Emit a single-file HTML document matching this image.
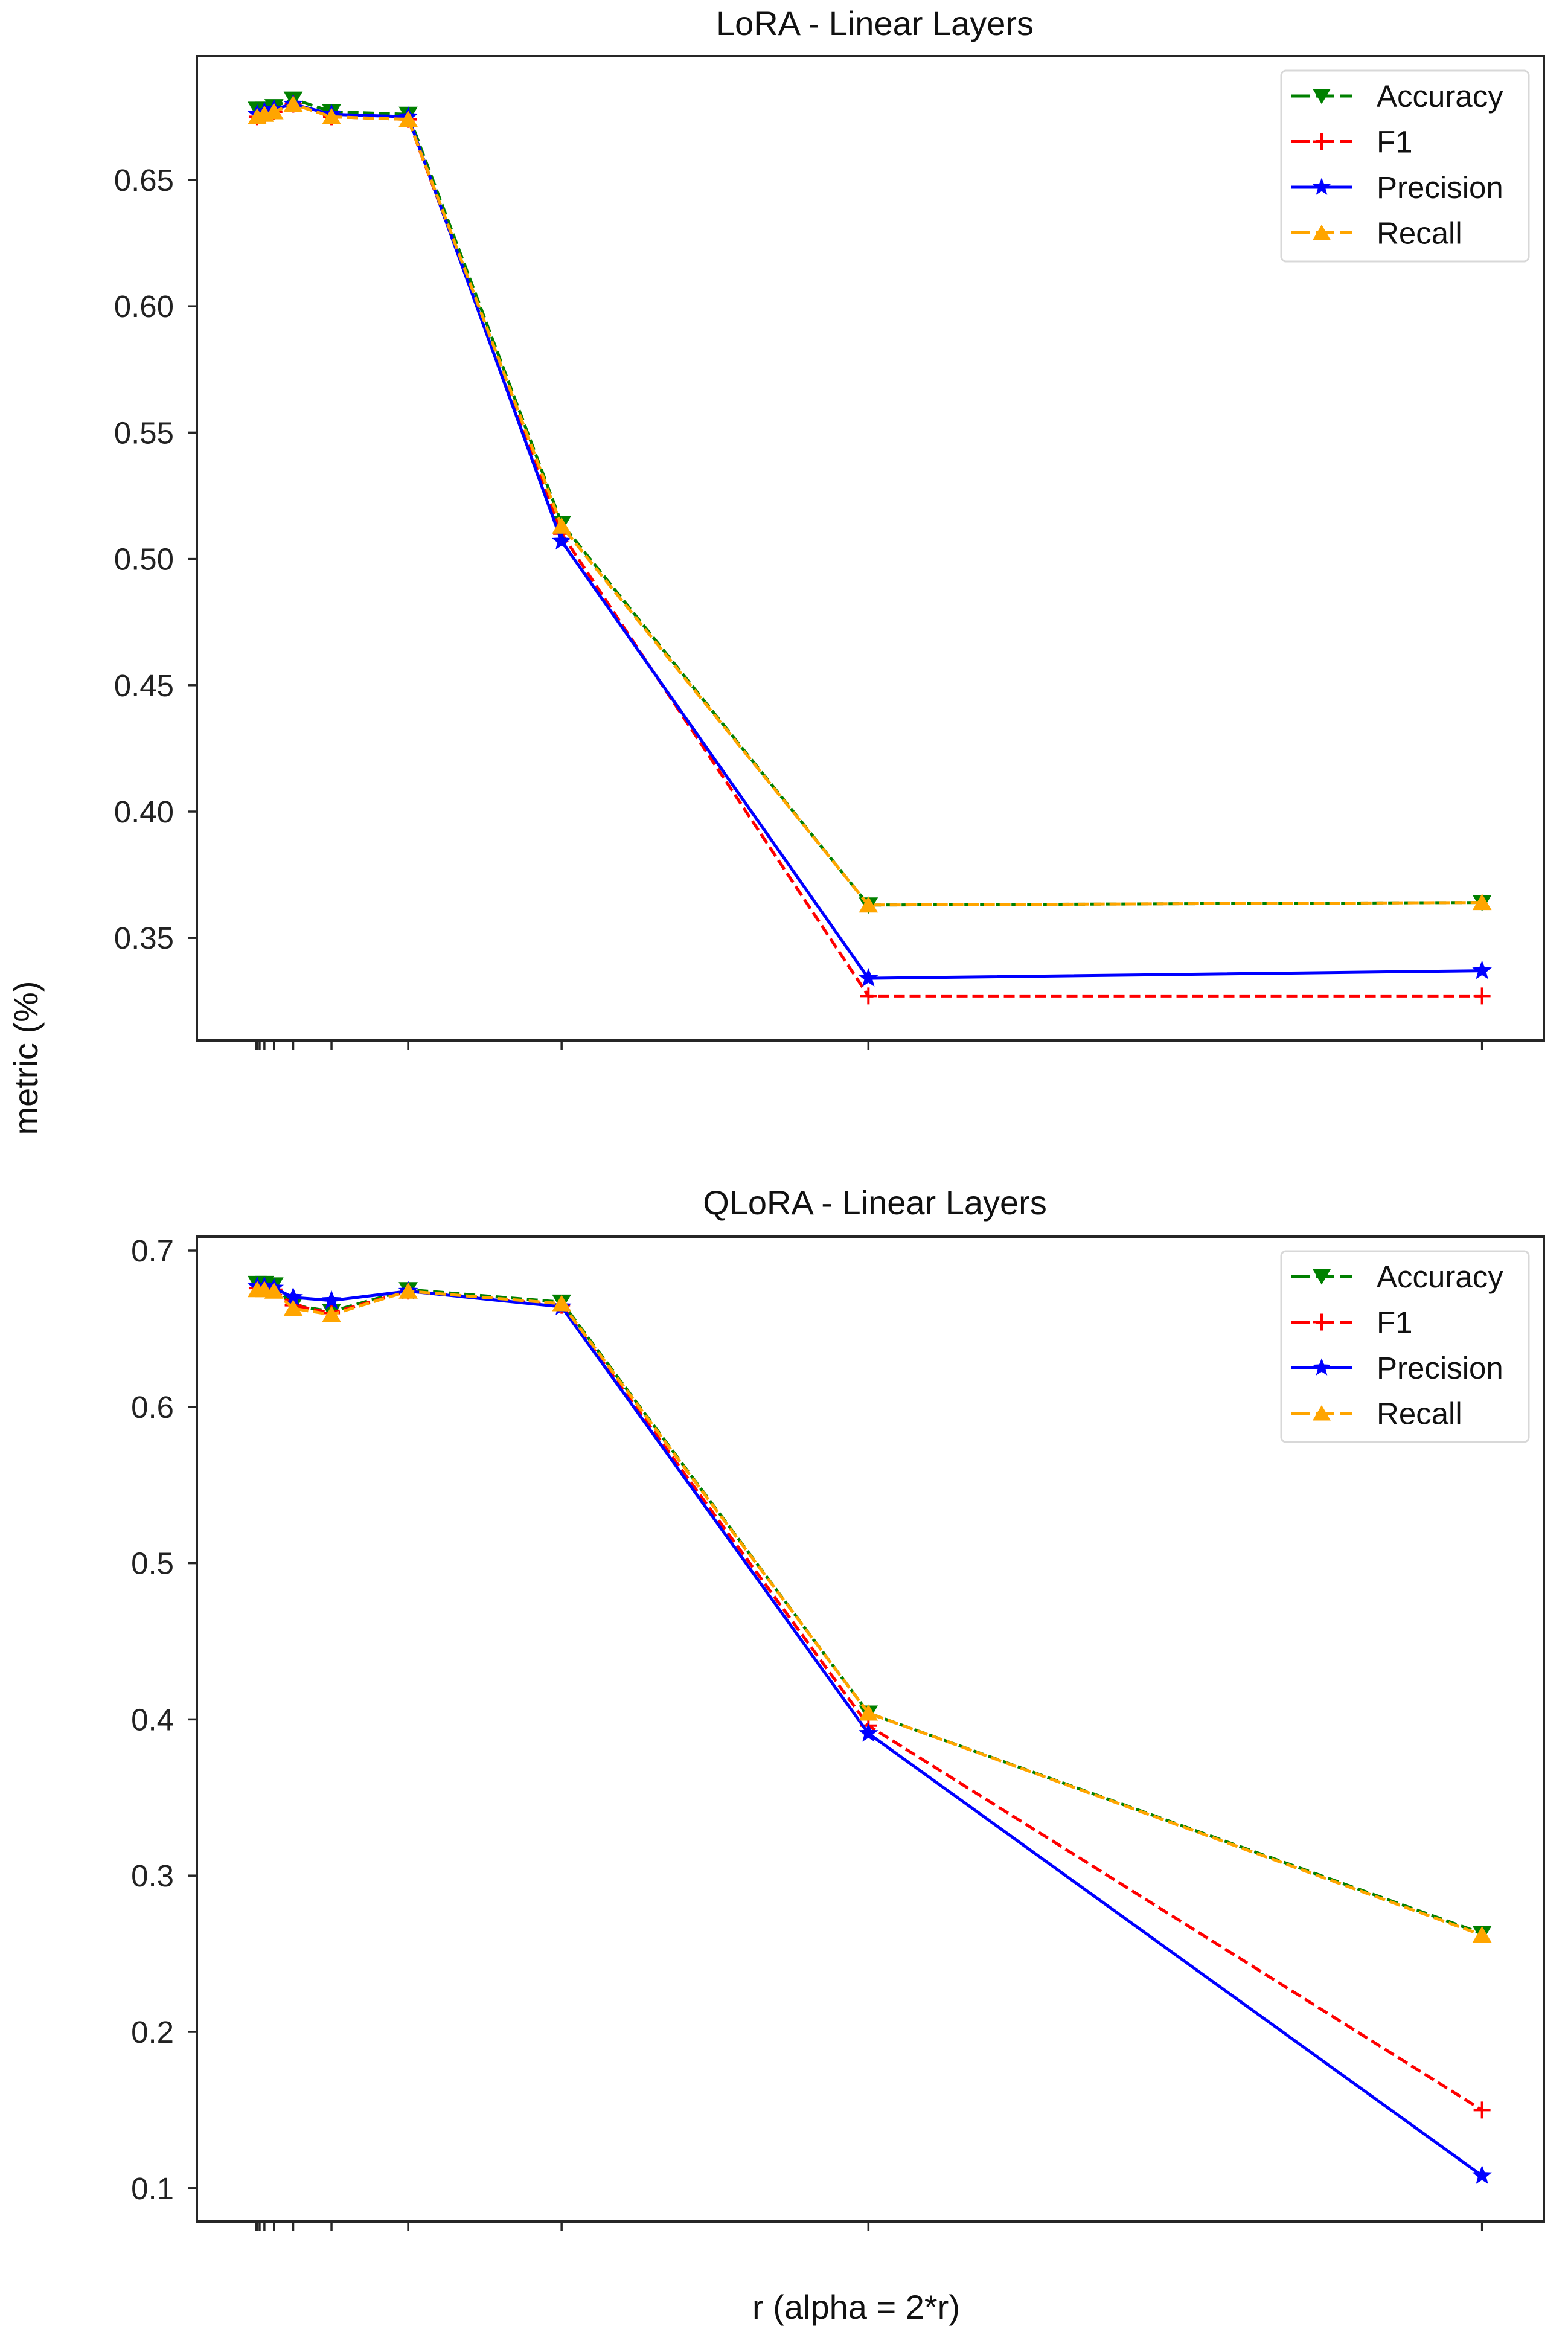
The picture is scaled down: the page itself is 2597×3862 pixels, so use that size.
<!DOCTYPE html>
<html><head><meta charset="utf-8"><style>
html,body{margin:0;padding:0;background:#fff;}
svg{display:block;font-family:"Liberation Sans","DejaVu Sans",sans-serif;}
</style></head><body>
<svg id="chart" width="2597" height="3862" viewBox="0 0 2597 3862" xmlns="http://www.w3.org/2000/svg">
<rect width="2597" height="3862" fill="#fff"/>
<text x="1449" y="58" font-size="56" text-anchor="middle" fill="#111">LoRA - Linear Layers</text>
<text x="1449" y="2011" font-size="56" text-anchor="middle" fill="#111">QLoRA - Linear Layers</text>
<text x="1418" y="3840" font-size="56" text-anchor="middle" fill="#111">r (alpha = 2*r)</text>
<text x="0" y="0" font-size="56" text-anchor="middle" fill="#111" transform="translate(62,1752) rotate(-90)">metric (%)</text>
<g id="plots"></g>
</svg>
<script>
const rValues = [0.25, 1, 2, 4, 8, 16, 32, 64, 128];
const xTicks = [0.125, 0.25, 0.5, 1, 2, 4, 8, 16, 32, 64, 128];
const seriesNames = ["Accuracy", "F1", "Precision", "Recall"];
const loraAccuracy  = [0.678, 0.678, 0.679, 0.682, 0.677, 0.676, 0.514, 0.363, 0.364];
const loraF1        = [0.675, 0.676, 0.677, 0.680, 0.675, 0.674, 0.510, 0.327, 0.327];
const loraPrecision = [0.676, 0.677, 0.678, 0.680, 0.676, 0.675, 0.507, 0.334, 0.337];
const loraRecall    = [0.675, 0.676, 0.677, 0.680, 0.675, 0.674, 0.513, 0.363, 0.364];
const qloraAccuracy  = [0.679, 0.679, 0.678, 0.665, 0.661, 0.675, 0.667, 0.404, 0.263];
const qloraF1        = [0.676, 0.676, 0.675, 0.665, 0.660, 0.674, 0.665, 0.396, 0.150];
const qloraPrecision = [0.677, 0.677, 0.676, 0.670, 0.668, 0.674, 0.664, 0.391, 0.108];
const qloraRecall    = [0.675, 0.675, 0.674, 0.663, 0.659, 0.674, 0.666, 0.404, 0.262];
const loraYTicks = [0.35, 0.40, 0.45, 0.50, 0.55, 0.60, 0.65];
const loraYLabels = ["0.35", "0.40", "0.45", "0.50", "0.55", "0.60", "0.65"];
const qloraYTicks = [0.1, 0.2, 0.3, 0.4, 0.5, 0.6, 0.7];
const qloraYLabels = ["0.1", "0.2", "0.3", "0.4", "0.5", "0.6", "0.7"];

const NS = "http://www.w3.org/2000/svg";
const root = document.getElementById("plots");
const styles = [
  {color:"#008000", dash:"18 8", marker:"tridown"},
  {color:"#ff0000", dash:"18 8", marker:"plus"},
  {color:"#0000ff", dash:"", marker:"star"},
  {color:"#ffa500", dash:"18 8", marker:"triup"}
];
function el(tag, attrs, parent){const e=document.createElementNS(NS,tag);for(const k in attrs)e.setAttribute(k,attrs[k]);(parent||root).appendChild(e);return e;}
function xScale(r){return 422 + r*15.88;}
function markerPath(type,x,y){
  const s=15;
  if(type==="tridown") return `M${x-s},${y-s*0.8}L${x+s},${y-s*0.8}L${x},${y+s*0.9}Z`;
  if(type==="triup") return `M${x-s},${y+s*0.8}L${x+s},${y+s*0.8}L${x},${y-s*0.9}Z`;
  if(type==="star"){let p="";for(let i=0;i<10;i++){const a=-Math.PI/2+i*Math.PI/5;const rr=i%2?s*0.45:s*1.05;p+=(i?"L":"M")+(x+rr*Math.cos(a)).toFixed(1)+","+(y+rr*Math.sin(a)).toFixed(1);}return p+"Z";}
  return "";
}
function drawPanel(cfg){
  const {left,right,top,bottom,yScale,yTicks,yLabels,series,legendTop,name}=cfg;
  const g=el("g",{});
  
  
  series.forEach((vals,si)=>{
    const st=styles[si];
    const pts=vals.map((v,i)=>xScale(rValues[i]).toFixed(1)+","+yScale(v).toFixed(1)).join(" ");
    const line=el("polyline",{points:pts,fill:"none",stroke:st.color,"stroke-width":5,"stroke-dasharray":st.dash,"stroke-linejoin":"round"},g);
    
    
    vals.forEach((v,i)=>{
      const x=xScale(rValues[i]),y=yScale(v);
      let m;
      if(st.marker==="plus"){
        m=el("path",{d:`M${x-14},${y}L${x+14},${y}M${x},${y-14}L${x},${y+14}`,stroke:st.color,"stroke-width":4,fill:"none"},g);
      } else {
        m=el("path",{d:markerPath(st.marker,x,y),fill:st.color,stroke:st.color,"stroke-width":1},g);
      }
      
      
    });
  });
  const frame=el("rect",{x:left,y:top,width:right-left,height:bottom-top,fill:"none",stroke:"#262626","stroke-width":4},g);
  
  
  yTicks.forEach((t,i)=>{
    const y=yScale(t);
    const tk=el("line",{x1:left-14,x2:left,y1:y,y2:y,stroke:"#262626","stroke-width":3.5},g);
    
    
    const tx=el("text",{x:left-38,y:y+18,"font-size":51,"text-anchor":"end",fill:"#222"},g);
    tx.textContent=yLabels[i];
    
    
  });
  xTicks.forEach(t=>{
    const x=xScale(t);
    const tk=el("line",{x1:x,x2:x,y1:bottom,y2:bottom+16,stroke:"#262626","stroke-width":3.5},g);
    
    
  });
  const lg=el("g",{},g);
  
  
  el("rect",{x:2122,y:legendTop,width:410,height:316,rx:8,fill:"#fff",stroke:"#d8d8d8","stroke-width":3},lg);
  seriesNames.forEach((nm,i)=>{
    const st=styles[i];
    const cy=legendTop+42+i*75.5;
    const e=el("g",{},lg);
    
    
    el("line",{x1:2139,x2:2239,y1:cy,y2:cy,stroke:st.color,"stroke-width":5,"stroke-dasharray":st.dash?"30 10":""},e);
    if(st.marker==="plus") el("path",{d:`M${2189-14},${cy}L${2189+14},${cy}M2189,${cy-14}L2189,${cy+14}`,stroke:st.color,"stroke-width":4},e);
    else el("path",{d:markerPath(st.marker,2189,cy),fill:st.color},e);
    const t=el("text",{x:2280,y:cy+18,"font-size":51,fill:"#111"},e);
    t.textContent=nm;
  });
}
drawPanel({name:"lora-panel",left:326,right:2557,top:93,bottom:1723,
  yScale:v=>298+(0.65-v)*4184,yTicks:loraYTicks,yLabels:loraYLabels,
  series:[loraAccuracy,loraF1,loraPrecision,loraRecall],legendTop:117});
drawPanel({name:"qlora-panel",left:326,right:2557,top:2048,bottom:3679,
  yScale:v=>2071+(0.7-v)*2588,yTicks:qloraYTicks,yLabels:qloraYLabels,
  series:[qloraAccuracy,qloraF1,qloraPrecision,qloraRecall],legendTop:2072});
</script>
</body></html>
